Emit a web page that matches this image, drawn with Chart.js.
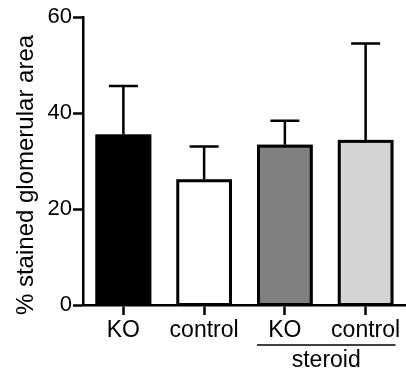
<!DOCTYPE html>
<html>
<head>
<meta charset="utf-8">
<script src="https://cdn.jsdelivr.net/npm/chart.js@4"></script>
<style>
  html, body { margin: 0; padding: 0; background: #fff; }
  #wrap { width: 406px; height: 373px; }
</style>
</head>
<body>
<div id="wrap"><canvas id="chart" width="406" height="373"></canvas></div>
<script>
// values
const categories = ['KO', 'control', 'KO', 'control'];
const means = [35.5, 26.2, 33.4, 34.4];
const errorsUp = [10.1, 6.8, 5.0, 20.1];
const barColors = ['#000000', '#ffffff', '#808080', '#d4d4d4'];
const yTicks = [0, 20, 40, 60];
const yTitle = '% stained glomerular area';
const groupName = 'steroid';
const groupCategories = [2, 3];

const FONT = "'Liberation Sans', Arial, sans-serif";

// bar outlines (stroked over the fill so no seam shows) and upper error whiskers
const errorBarPlugin = {
    id: 'errorBars',
    afterDatasetsDraw(chart) {
        const ctx = chart.ctx;
        const y = chart.scales.y;
        const meta = chart.getDatasetMeta(0);
        ctx.save();
        ctx.strokeStyle = '#000';
        meta.data.forEach((bar, i) => {
            ctx.lineWidth = 3;
            ctx.strokeRect(bar.x - bar.width / 2 + 1.5, bar.y + 1.5, bar.width - 3, bar.base - bar.y - 1.5);

            const top = y.getPixelForValue(means[i] + errorsUp[i]);
            ctx.lineWidth = 2.5;
            ctx.beginPath();
            ctx.moveTo(bar.x, bar.y);
            ctx.lineTo(bar.x, top);
            ctx.moveTo(bar.x - 14.5, top);
            ctx.lineTo(bar.x + 14.5, top);
            ctx.stroke();
        });
        ctx.restore();
    }
};

// y title placed a bit lower than the axis middle, plus the "steroid" bracket
const labelsPlugin = {
    id: 'extraLabels',
    afterDraw(chart) {
        const ctx = chart.ctx;
        const area = chart.chartArea;
        const meta = chart.getDatasetMeta(0);

        ctx.save();
        ctx.fillStyle = '#000';
        ctx.font = '24px ' + FONT;
        ctx.translate(26, (area.top + area.bottom) / 2 + 14);
        ctx.rotate(-Math.PI / 2);
        ctx.textAlign = 'center';
        ctx.textBaseline = 'middle';
        ctx.fillText(yTitle, 0, 0);
        ctx.restore();

        const a = meta.data[groupCategories[0]];
        const b = meta.data[groupCategories[1]];
        const x1 = a.x - a.width / 2;
        const x2 = b.x + b.width / 2 + 2;
        const lineY = area.bottom + 40;
        ctx.save();
        ctx.strokeStyle = '#000';
        ctx.lineWidth = 1.5;
        ctx.beginPath();
        ctx.moveTo(x1, lineY);
        ctx.lineTo(x2, lineY);
        ctx.stroke();
        ctx.fillStyle = '#000';
        ctx.font = '23px ' + FONT;
        ctx.textAlign = 'center';
        ctx.textBaseline = 'alphabetic';
        ctx.fillText(groupName, (x1 + x2) / 2, lineY + 22);
        ctx.restore();
    }
};

new Chart(document.getElementById('chart'), {
    type: 'bar',
    data: {
        labels: categories,
        datasets: [{
            data: means,
            backgroundColor: barColors,
            borderWidth: 0,
            barPercentage: 0.69,
            categoryPercentage: 1
        }]
    },
    options: {
        responsive: false,
        animation: false,
        devicePixelRatio: 1,
        layout: { padding: { top: 17, right: 0, bottom: 0, left: 0 } },
        plugins: {
            legend: { display: false },
            tooltip: { enabled: false }
        },
        scales: {
            x: {
                afterFit: (scale) => { scale.height = 68; },
                grid: {
                    offset: false,
                    drawOnChartArea: false,
                    drawTicks: true,
                    tickLength: 10,
                    tickWidth: 2.5,
                    tickColor: '#000'
                },
                border: { display: true, color: '#000', width: 2.5 },
                ticks: {
                    color: '#000',
                    font: { family: FONT, size: 23 },
                    padding: 2,
                    maxRotation: 0,
                    autoSkip: false
                }
            },
            y: {
                min: 0,
                max: 60,
                afterFit: (scale) => { scale.width = 83; },
                afterBuildTicks: (scale) => { scale.ticks = yTicks.map(v => ({ value: v })); },
                grid: {
                    drawOnChartArea: false,
                    drawTicks: true,
                    tickLength: 10,
                    tickWidth: 2.5,
                    tickColor: '#000'
                },
                border: { display: true, color: '#000', width: 2.5 },
                ticks: {
                    color: '#000',
                    font: { family: FONT, size: 22 },
                    padding: 1
                }
            }
        }
    },
    plugins: [errorBarPlugin, labelsPlugin]
});
</script>
</body>
</html>
